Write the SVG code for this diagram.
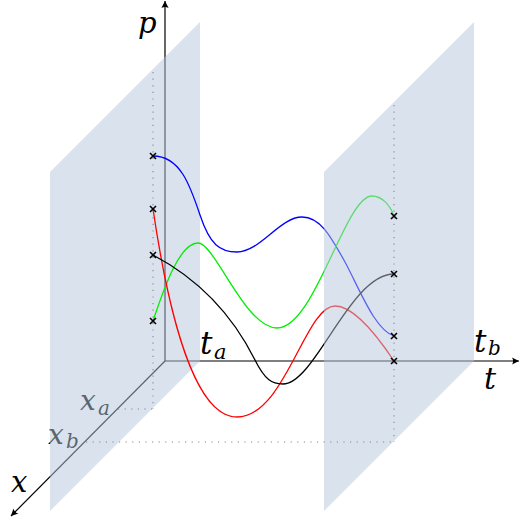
<svg xmlns="http://www.w3.org/2000/svg" width="520" height="519" viewBox="0 0 520 519">
<style>
.ax{fill:none;stroke:#000;stroke-width:1.2}
.pl{fill:rgb(181,199,219);fill-opacity:0.5;stroke:none}
.cv{fill:none;stroke-width:1.3}
.dt{fill:none;stroke:#888;stroke-width:1.1;stroke-dasharray:1.2 5.4}
.mk{fill:none;stroke:#000;stroke-width:1.6}
text{font-family:"DejaVu Serif","Liberation Serif",serif;font-style:italic;fill:#000}
</style>
<defs>
<marker id="arr" viewBox="-8 -5 10 10" markerWidth="10" markerHeight="10" refX="0" refY="0" orient="auto" markerUnits="userSpaceOnUse">
<path d="M0,0 L-7,-3.6 Q-4.8,0 -7,3.6 Z" fill="#000"/>
</marker>
</defs>
<rect width="520" height="519" fill="#fff"/>
<g id="axes">
<line class="ax" x1="165" y1="361" x2="165" y2="1" marker-end="url(#arr)"/>
<line class="ax" x1="165" y1="361" x2="519" y2="361" marker-end="url(#arr)"/>
<line class="ax" x1="165" y1="361" x2="11" y2="516" marker-end="url(#arr)"/>
</g>
<g id="label-xa"><text x="80" y="410" font-size="28">x</text><text x="98" y="415" font-size="20">a</text></g>
<g id="label-xb"><text x="48" y="444" font-size="28">x</text><text x="66" y="448" font-size="20">b</text></g>
<g id="plane-a"><polygon class="pl" points="200,22 50,172 50,511 200,361"/></g>
<g id="connectors">
<path id="curve-blue" class="cv" stroke="#0000ff" d="M153,156 C180,156 190,185 200,215 C210,245 220,252 237,252 C260,252 280,217 302,217 C320,217 330,235 345,262 C360,290 375,330 394,336"/>
<path id="curve-green" class="cv" stroke="#00ee00" d="M153,321 C165,285 180,243 198,243 C215,243 245,328 277,328 C315,328 345,196 372,196 C382,196 390,205 394,216"/>
<path id="curve-red" class="cv" stroke="#ff0000" d="M153,209 C165,290 190,417 237,417 C285,417 305,306 335,306 C355,306 380,340 394,361"/>
<path id="curve-black" class="cv" stroke="#000" d="M153,255 C210,285 240,330 255,360 C265,380 272,384 283,384 C315,384 350,274 394,274"/>
</g>
<g id="plane-b"><polygon class="pl" points="474,22 324,172 324,511 474,361"/></g>
<g id="guides">
<line class="dt" x1="153" y1="72" x2="153" y2="409"/>
<line class="dt" x1="118" y1="409" x2="153" y2="409"/>
<line class="dt" x1="394" y1="105" x2="394" y2="442"/>
<line class="dt" x1="86" y1="442" x2="394" y2="442"/>
</g>
<g id="markers">
<path class="mk" d="M150,153 l6,6 m0,-6 l-6,6"/>
<path class="mk" d="M150,206 l6,6 m0,-6 l-6,6"/>
<path class="mk" d="M150,252 l6,6 m0,-6 l-6,6"/>
<path class="mk" d="M150,318 l6,6 m0,-6 l-6,6"/>
<path class="mk" d="M391,213 l6,6 m0,-6 l-6,6"/>
<path class="mk" d="M391,271 l6,6 m0,-6 l-6,6"/>
<path class="mk" d="M391,333 l6,6 m0,-6 l-6,6"/>
<path class="mk" d="M391,358 l6,6 m0,-6 l-6,6"/>
</g>
<g id="label-p"><text x="138" y="33" font-size="29">p</text></g>
<g id="label-ta"><text x="200" y="354" font-size="31">t</text><text x="214" y="359" font-size="21">a</text></g>
<g id="label-tb"><text x="474" y="352" font-size="31">t</text><text x="488" y="355" font-size="20">b</text></g>
<g id="label-t"><text x="484" y="389" font-size="30">t</text></g>
<g id="label-x"><text x="11" y="492" font-size="29">x</text></g>
</svg>
